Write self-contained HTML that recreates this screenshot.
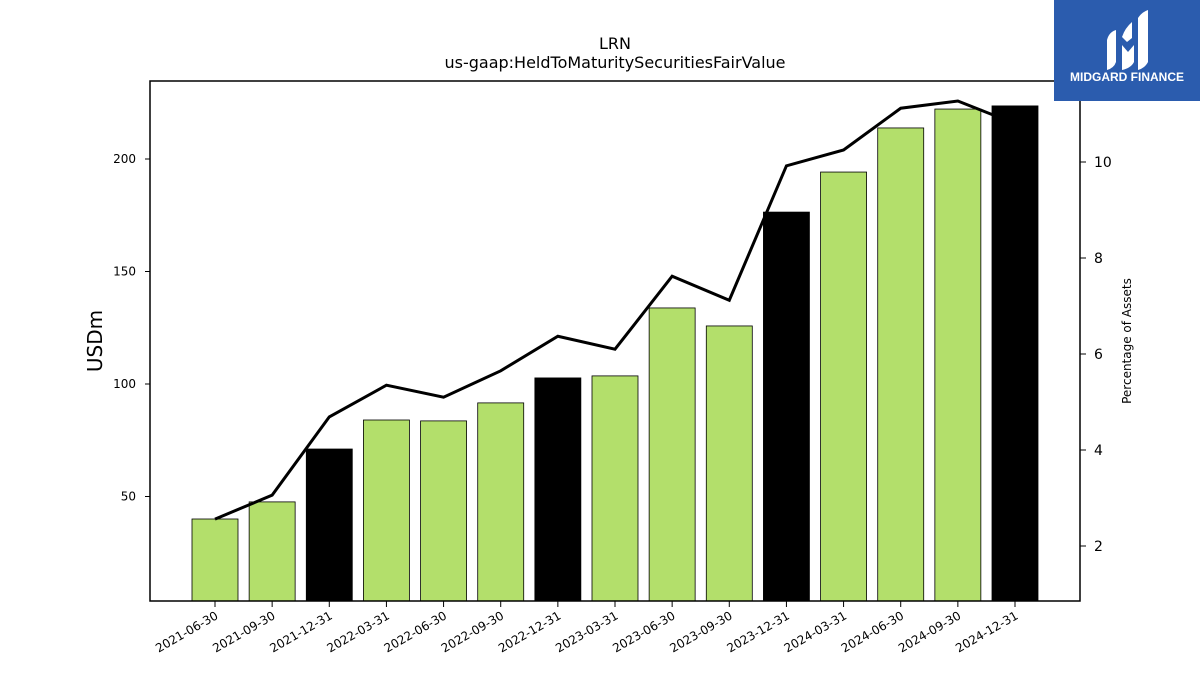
<!DOCTYPE html>
<html><head><meta charset="utf-8"><style>
body{margin:0;background:#fff;width:1200px;height:675px;overflow:hidden;font-family:"Liberation Sans","DejaVu Sans",sans-serif}
</style></head><body>
<svg id="chart" width="1200" height="675" xmlns="http://www.w3.org/2000/svg" font-family="DejaVu Sans, Liberation Sans, sans-serif">
<text x="615" y="49" text-anchor="middle" font-size="16">LRN</text>
<text x="615" y="68" text-anchor="middle" font-size="16">us-gaap:HeldToMaturitySecuritiesFairValue</text>
<g id="bars"></g>
<g id="line"></g>
<rect x="150" y="81" width="930" height="520" fill="none" stroke="#000" stroke-width="1.5"/>
<g id="axes"></g>
<text x="102" y="341" text-anchor="middle" font-size="20" transform="rotate(-90 102 341)">USDm</text>
<text x="1131" y="341" text-anchor="middle" font-size="12" transform="rotate(-90 1131 341)">Percentage of Assets</text>
<g>
<rect x="1054" y="0" width="146" height="101" fill="#2b5cae"/>
<path d="M1107 70 L1107 40 Q1109 32 1116 30 L1116 62 Q1114 68 1107 70Z" fill="#fff"/>
<path d="M1122 70 L1122 45 L1128 52 L1134 45 L1134 62 Q1131 68 1122 70Z" fill="#fff"/>
<path d="M1122 37 Q1125 28 1132 22 L1132 38 L1127 42Z" fill="#fff"/>
<path d="M1138 70 L1138 18 Q1142 12 1148 10 L1148 62 Q1145 68 1138 70Z" fill="#fff"/>
<text x="1127" y="81" text-anchor="middle" font-size="12" font-weight="bold" fill="#fff" font-family="Liberation Sans, sans-serif">MIDGARD FINANCE</text>
</g>
</svg>
<script>
const categories=["2021-06-30","2021-09-30","2021-12-31","2022-03-31","2022-06-30","2022-09-30","2022-12-31","2023-03-31","2023-06-30","2023-09-30","2023-12-31","2024-03-31","2024-06-30","2024-09-30","2024-12-31"];
const barValues=[40,47.6,71.1,84,83.6,91.6,102.7,103.6,133.8,125.8,176.4,194.2,213.8,222.2,223.6];
const pctValues=[2.56,3.06,4.69,5.35,5.1,5.65,6.37,6.1,7.62,7.12,9.92,10.25,11.12,11.27,10.8];
const leftTicks=[50,100,150,200];
const rightTicks=[2,4,6,8,10];
const NS="http://www.w3.org/2000/svg";
const yL=v=>159+(200-v)*2.25;
const yR=v=>546-(v-2)*48;
const xC=i=>215+i*(800/14);
function mk(tag,attrs,parent){const e=document.createElementNS(NS,tag);for(const k in attrs)e.setAttribute(k,attrs[k]);parent.appendChild(e);return e;}
const bars=document.getElementById('bars'),line=document.getElementById('line'),axes=document.getElementById('axes');
barValues.forEach((v,i)=>{
  const dark=(categories[i].endsWith('12-31'));
  const r=mk('rect',{x:xC(i)-23,y:yL(v),width:46,height:601-yL(v),fill:dark?'#000':'#b3df6b',stroke:'#000','stroke-width':0.8},bars);
  
  
});
const pl=mk('polyline',{points:pctValues.map((v,i)=>xC(i)+','+yR(v)).join(' '),fill:'none',stroke:'#000','stroke-width':3},line);


leftTicks.forEach(t=>{
  mk('line',{x1:145,x2:150,y1:yL(t),y2:yL(t),stroke:'#000'},axes);
  const tx=mk('text',{x:136,y:yL(t)+4,'text-anchor':'end','font-size':12},axes);tx.textContent=t;
  
  
});
rightTicks.forEach(t=>{
  mk('line',{x1:1080,x2:1086,y1:yR(t),y2:yR(t),stroke:'#000'},axes);
  const tx=mk('text',{x:1094,y:yR(t)+5,'font-size':14},axes);tx.textContent=t;
  
  
});
categories.forEach((c,i)=>{
  mk('line',{x1:xC(i),x2:xC(i),y1:601,y2:607,stroke:'#000'},axes);
  const tx=mk('text',{x:xC(i)+4,y:618,'text-anchor':'end','font-size':12,transform:`rotate(-30 ${xC(i)+4} 618)`},axes);tx.textContent=c;
  
  
});
</script>
</body></html>
